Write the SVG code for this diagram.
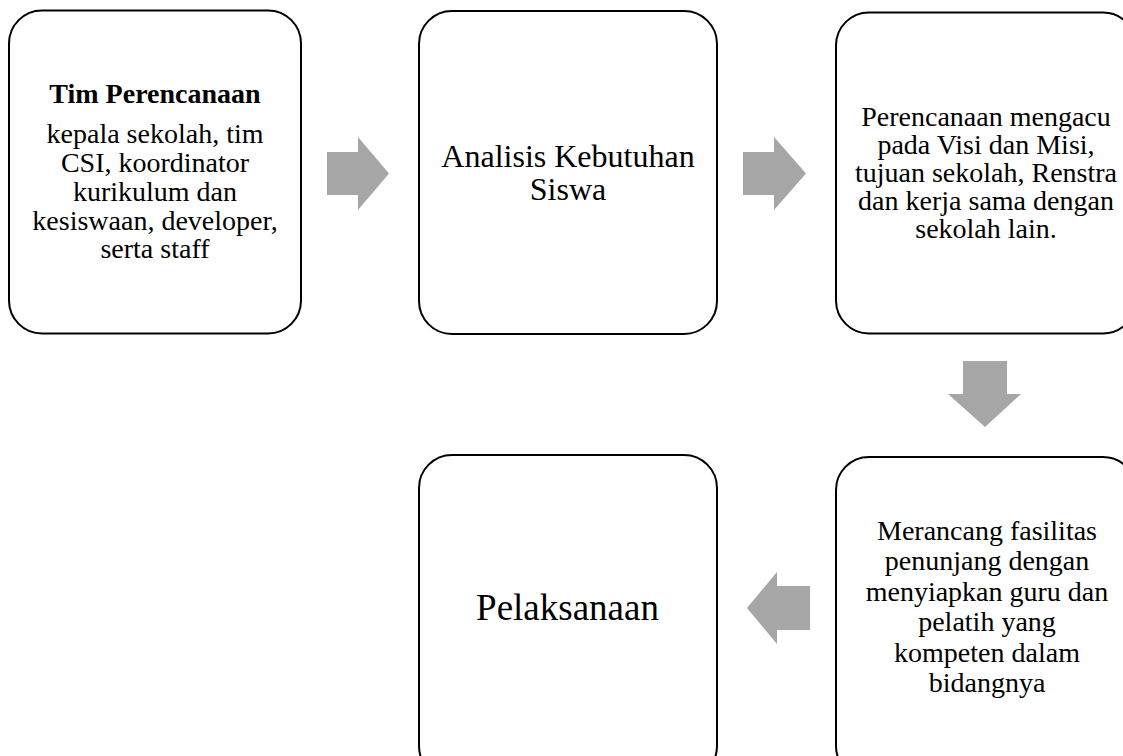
<svg xmlns="http://www.w3.org/2000/svg" width="1123" height="756" viewBox="0 0 1123 756">
<style>
.box{fill:#fff;stroke:#000;stroke-width:2}
.arrow{fill:#a6a6a6;stroke:none}
text{font-family:"Liberation Serif","Times New Roman",serif;fill:#000;text-anchor:middle}
.t28{font-size:28px}
.b28{font-size:28px;font-weight:bold}
.t32{font-size:32px}
.t37{font-size:37px}
</style>
<rect width="1123" height="756" fill="#fff"/>
<g id="connectors">
<polygon class="arrow" points="327,152 358,152 358,137 389,173.5 358,210 358,195 327,195"/>
<polygon class="arrow" points="743,152 774,152 774,137 806,173.5 774,210 774,195 743,195"/>
<polygon class="arrow" points="963,361 1007,361 1007,394 1021,394 985,427 948,394 963,394"/>
<polygon class="arrow" points="810,586 777,586 777,572 747,608 777,644 777,630 810,630"/>
</g>
<g id="node-tim">
<rect class="box" x="9" y="10.5" width="292" height="323" rx="33" ry="33"/>
<text class="b28" x="155" y="103">Tim Perencanaan</text>
<text class="t28" x="155" y="143">kepala sekolah, tim</text>
<text class="t28" x="155" y="172">CSI, koordinator</text>
<text class="t28" x="155" y="201">kurikulum dan</text>
<text class="t28" x="155" y="230">kesiswaan, developer,</text>
<text class="t28" x="155" y="258">serta staff</text>
</g>
<g id="node-analisis">
<rect class="box" x="419" y="11" width="298" height="323" rx="33" ry="33"/>
<text class="t32" x="568" y="166.5">Analisis Kebutuhan</text>
<text class="t32" x="568" y="199.5">Siswa</text>
</g>
<g id="node-perencanaan">
<rect class="box" x="836" y="12.5" width="300" height="321" rx="33" ry="33"/>
<text class="t28" x="986" y="126">Perencanaan mengacu</text>
<text class="t28" x="986" y="154">pada Visi dan Misi,</text>
<text class="t28" x="986" y="182">tujuan sekolah, Renstra</text>
<text class="t28" x="986" y="210">dan kerja sama dengan</text>
<text class="t28" x="986" y="238">sekolah lain.</text>
</g>
<g id="node-merancang">
<rect class="box" x="836" y="457" width="300" height="322" rx="33" ry="33"/>
<text class="t28" x="987" y="540">Merancang fasilitas</text>
<text class="t28" x="987" y="570">penunjang dengan</text>
<text class="t28" x="987" y="601">menyiapkan guru dan</text>
<text class="t28" x="987" y="631">pelatih yang</text>
<text class="t28" x="987" y="662">kompeten dalam</text>
<text class="t28" x="987" y="692">bidangnya</text>
</g>
<g id="node-pelaksanaan">
<rect class="box" x="419" y="455" width="298" height="324" rx="33" ry="33"/>
<text class="t37" x="567.5" y="620">Pelaksanaan</text>
</g>
</svg>
